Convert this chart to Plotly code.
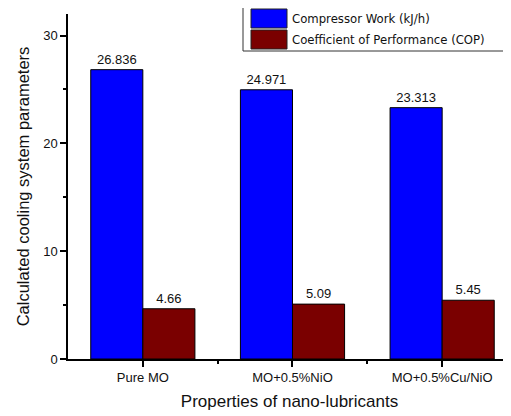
import plotly.graph_objects as go

categories = ["Pure MO", "MO+0.5%NiO", "MO+0.5%Cu/NiO"]
compressor_work = [26.836, 24.971, 23.313]
cop = [4.66, 5.09, 5.45]
series_names = ["Compressor Work (kJ/h)", "Coefficient of Performance (COP)"]
series_colors = ["#0000FF", "#7A0000"]
y_ticks = [0, 10, 20, 30]

xpos = list(range(len(categories)))

# page body has an 8px margin; figure sized to fill the rest of the 511x416 window
OFF = 8
W, H = 511 - OFF, 416 - OFF
L, R, T, B = 68 - OFF, 0, 14 - OFF, 57
pw, ph = W - L - R, H - T - B


def px(x):
    return (x - OFF - L) / pw


def py(y):
    return (H - B - (y - OFF)) / ph


fig = go.Figure()
for vals, name, color, fmt in [
    (compressor_work, series_names[0], series_colors[0], "{:.3f}"),
    (cop, series_names[1], series_colors[1], "{:g}"),
]:
    fig.add_trace(go.Bar(
        x=xpos, y=vals, name=name, showlegend=False,
        marker=dict(color=color, line=dict(color="#000000", width=1)),
        text=[fmt.format(v) for v in vals], textposition="outside",
        textfont=dict(family="Liberation Sans", size=13, color="#111"),
        cliponaxis=False,
    ))

# custom legend (box, swatches, labels)
shapes = [dict(type="rect", xref="paper", yref="paper",
               x0=px(243), x1=px(508), y0=py(51), y1=py(7),
               line=dict(color="#333", width=1), fillcolor="white", layer="above")]
annotations = []
rows = [(9, 28), (30, 49)]
for (top, bot), name, color in zip(rows, series_names, series_colors):
    shapes.append(dict(type="rect", xref="paper", yref="paper",
                       x0=px(251), x1=px(287), y0=py(bot), y1=py(top),
                       line=dict(color="#222", width=1), fillcolor=color, layer="above"))
    annotations.append(dict(xref="paper", yref="paper", x=px(290), y=py((top + bot) / 2),
                            xanchor="left", yanchor="middle", showarrow=False, text=name,
                            font=dict(family="DejaVu Sans", size=11.7, color="#111")))

fig.update_layout(
    width=W, height=H,
    margin=dict(l=L, r=R, t=T, b=B, autoexpand=False),
    paper_bgcolor="white", plot_bgcolor="white",
    barmode="group", bargap=0.304, bargroupgap=0,
    font=dict(family="Liberation Sans", color="#111"),
    shapes=shapes, annotations=annotations,
    xaxis=dict(
        range=[-0.5, 2.46], tickmode="array", tickvals=xpos, ticktext=categories,
        showline=True, linecolor="#000", linewidth=1.5, showgrid=False, zeroline=False,
        ticks="outside", ticklen=6, tickwidth=1.5, tickcolor="#000",
        tickfont=dict(family="Liberation Sans", size=13, color="#111"),
        minor=dict(tickmode="array", tickvals=[0.5, 1.5], ticks="outside", ticklen=3, tickwidth=1.5, tickcolor="#000"),
        title=dict(text="Properties of nano-lubricants", font=dict(family="Liberation Sans", size=17, color="#111"), standoff=11),
    ),
    yaxis=dict(
        range=[0, 32], tickmode="array", tickvals=y_ticks,
        showline=True, linecolor="#000", linewidth=1.5, showgrid=False, zeroline=False,
        ticks="outside", ticklen=6, tickwidth=1.5, tickcolor="#000",
        tickfont=dict(family="Liberation Sans", size=13, color="#111"),
        minor=dict(dtick=5, tick0=0, ticks="outside", ticklen=3, tickwidth=1.5, tickcolor="#000"),
        title=dict(text="Calculated cooling system parameters", font=dict(family="Liberation Sans", size=16.5, color="#111"), standoff=9),
    ),
)

fig.write_html("out.html")
